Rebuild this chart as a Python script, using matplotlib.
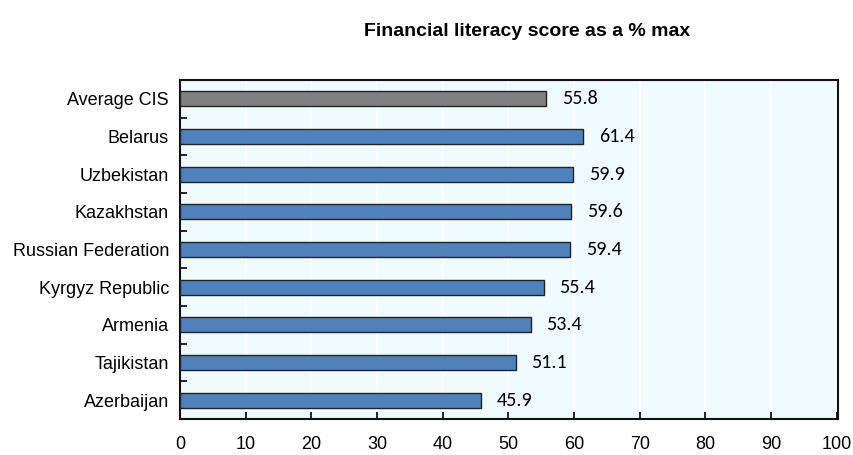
import matplotlib.pyplot as plt
from matplotlib.ticker import MultipleLocator, FixedLocator

countries = ["Average CIS", "Belarus", "Uzbekistan", "Kazakhstan", "Russian Federation",
             "Kyrgyz Republic", "Armenia", "Tajikistan", "Azerbaijan"]
scores = [55.8, 61.4, 59.9, 59.6, 59.4, 55.4, 53.4, 51.1, 45.9]
bar_colors = ["#808080"] + ["#4F81BD"] * 8

plt.rcParams['font.family'] = ['Liberation Sans', 'DejaVu Sans']

fig = plt.figure(figsize=(8.54, 4.55), dpi=100)
ax = fig.add_axes([180/854, 1 - 419/455, 658/854, 339/455])
ax.set_facecolor("#F0FBFF")

y = list(range(len(countries)))[::-1]
ax.barh(y, scores, height=0.4, color=bar_colors, edgecolor="#222222", linewidth=1, zorder=3)
for yi, v in zip(y, scores):
    ax.text(v + 2.4, yi, f"{v:.1f}", va="center", ha="left", fontsize=14.5,
            family=['Carlito', 'Lato', 'DejaVu Sans'], zorder=4)

ax.set_xlim(0, 100.2)
ax.set_ylim(-0.5, len(countries) - 0.5)
ax.xaxis.set_major_locator(MultipleLocator(10))
ax.grid(axis="x", color="white", linewidth=1.2, zorder=1)
ax.set_yticks(y)
ax.set_yticklabels(countries, fontsize=13)
ax.yaxis.set_minor_locator(FixedLocator([i + 0.5 for i in range(len(countries) - 1)]))
ax.tick_params(axis="y", which="major", length=0, pad=8)
ax.tick_params(axis="y", which="minor", direction="in", length=5, width=1.2)
ax.tick_params(axis="x", direction="in", length=5, width=1.2, labelsize=13, pad=12)
for s in ax.spines.values():
    s.set_linewidth(1.5)
    s.set_color("#111111")

fig.text(527/854, 1 - 31/455, "Financial literacy score as a % max", ha="center", va="center",
         fontsize=14, fontweight="bold")

fig.savefig("out.png", dpi=100)
